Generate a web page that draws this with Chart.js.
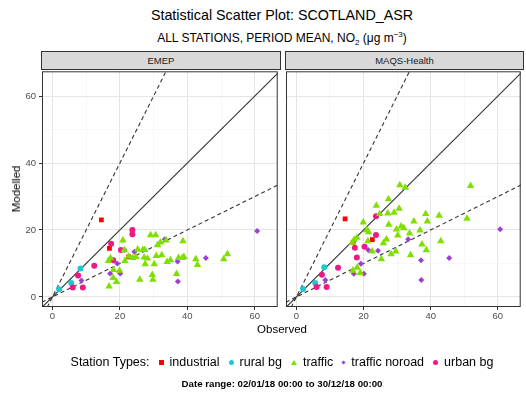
<!DOCTYPE html>
<html>
<head>
<meta charset="utf-8">
<script src="https://cdn.jsdelivr.net/npm/chart.js@4.4.0/dist/chart.umd.min.js"></script>
<style>
body { margin: 0; background: #fff; font-family: "Liberation Sans", Arial, sans-serif; }
#wrap { position: relative; width: 526px; height: 397px; overflow: hidden; }
.abs { position: absolute; }
.ctr { left: 41px; width: 482px; text-align: center; white-space: nowrap; }
#title { top: 6px; font-size: 14.3px; line-height: 18px; color: #000; }
#sub { top: 27px; font-size: 12px; line-height: 16px; color: #000; }
.strip { top: 51px; height: 19px; background: #d9d9d9; border: 1px solid #333; box-sizing: border-box;
  font-size: 9.5px; line-height: 17px; text-align: center; color: #1a1a1a; }
#ytitle { left: 16px; top: 189px; font-size: 11.5px; transform: translate(-50%, -50%) rotate(-90deg); white-space: nowrap; }
#xtitle { top: 322px; font-size: 11.5px; line-height: 14px; }
#legend { top: 354px; font-size: 12.5px; line-height: 16px; display: flex; justify-content: center; align-items: center; }
#legend .mk { display: inline-block; margin: 0 6px 0 9px; }
#date { top: 378px; font-size: 9.7px; font-weight: bold; line-height: 12px; }
canvas { position: absolute; }
</style>
</head>
<body>
<div id="wrap">
  <div id="title" class="abs ctr">Statistical Scatter Plot: SCOTLAND_ASR</div>
  <div id="sub" class="abs ctr">ALL STATIONS, PERIOD MEAN, NO<sub style="font-size:8px">2</sub> (&mu;g m<sup style="font-size:8px">&minus;3</sup>)</div>
  <div class="abs strip" style="left:41px;width:240px;">EMEP</div>
  <div class="abs strip" style="left:285px;width:239px;">MAQS-Health</div>
  <canvas id="left" width="282" height="258" style="left:0;top:67px;"></canvas>
  <canvas id="right" width="245" height="258" style="left:280px;top:67px;"></canvas>
  <div id="ytitle" class="abs">Modelled</div>
  <div id="xtitle" class="abs ctr">Observed</div>
  <div id="legend" class="abs ctr">
    <span>Station Types:</span>
    <span class="mk" style="width:5px;height:5px;background:#ff0000;"></span><span>industrial</span>
    <span class="mk" style="width:5px;height:5px;border-radius:50%;background:#1cc9d3;"></span><span>rural bg</span>
    <span class="mk" style="width:0;height:0;border-left:3px solid transparent;border-right:3px solid transparent;border-bottom:5px solid #7fe000;"></span><span>traffic</span>
    <span class="mk" style="width:3px;height:3px;transform:rotate(45deg);background:#9b3fd5;"></span><span>traffic noroad</span>
    <span class="mk" style="width:5px;height:5px;border-radius:50%;background:#ee1a84;"></span><span>urban bg</span>
  </div>
  <div id="date" class="abs ctr">Date range: 02/01/18 00:00 to 30/12/18 00:00</div>
</div>
<script>
// observed values are shared by both panels, modelled values per model
const industrialObs = [14.5, 16.9, 22.6];
const industrialEmep = [23.0, 14.5, 12.0];
const industrialMaqs = [23.3, 16.3, 17.1];

const ruralObs = [2.0, 5.6, 8.3];
const ruralEmep = [2.3, 4.2, 8.5];
const ruralMaqs = [2.4, 4.2, 8.9];

const trafficObs = [16.6, 16.8, 17.2, 18.0, 18.1, 19.0, 19.9, 20.9, 21.3, 21.5, 22.6, 23.8, 24.8, 25.3, 25.9,
  26.8, 27.2, 27.4, 27.5, 28.2, 29.1, 29.6, 29.8, 30.2, 30.6, 30.8, 31.2, 32.0, 32.4, 33.7, 34.0, 35.0, 36.8,
  37.4, 38.5, 38.7, 39.0, 42.5, 43.0, 50.8, 51.9];
const trafficEmep = [10.8, 3.2, 11.6, 5.7, 8.1, 4.5, 7.9, 16.9, 14.0, 10.8, 12.1, 11.7, 12.0, 14.2, 5.2,
  14.1, 11.8, 14.1, 9.8, 11.5, 18.5, 6.6, 5.2, 9.8, 18.5, 12.3, 15.5, 16.3, 12.5, 16.9, 10.5, 11.0, 6.9,
  11.7, 11.7, 16.7, 12.0, 11.3, 9.6, 11.3, 12.8];
const trafficMaqs = [16.2, 7.9, 17.1, 17.7, 8.8, 7.2, 22.3, 20.0, 16.7, 19.4, 13.6, 27.3, 24.8, 11.3, 16.1,
  17.2, 25.0, 29.2, 21.6, 12.8, 25.2, 13.6, 20.2, 18.4, 26.4, 33.4, 21.1, 20.6, 32.7, 19.0, 12.5, 22.6, 19.9,
  15.7, 24.8, 14.0, 22.6, 24.3, 16.7, 23.4, 33.2];

const noroadObs = [8.6, 17.1, 20.1, 19.2, 21.4, 24.3, 33.3, 37.1, 37.2, 45.5, 60.7];
const noroadEmep = [4.9, 7.0, 7.0, 10.0, 14.0, 13.5, 17.2, 10.6, 4.6, 11.6, 19.7];
const noroadMaqs = [5.1, 6.9, 6.9, 9.9, 14.0, 13.8, 17.2, 11.0, 5.1, 11.6, 20.2];

const urbanObs = [6.0, 9.0, 7.6, 12.4, 17.4, 18.0, 20.3, 23.7, 23.7];
const urbanEmep = [2.8, 2.8, 6.4, 9.3, 15.9, 11.0, 14.0, 20.0, 18.7];
const urbanMaqs = [3.0, 3.0, 6.6, 8.7, 14.7, 11.8, 15.0, 24.1, 18.5];

// 1:1, 2:1 and 1:2 reference lines (end points)
const lineOneOne = [[-5, -5], [70, 70]];
const lineTwoOne = [[-2.5, -5], [35, 70]];
const lineOneTwo = [[-5, -2.5], [70, 35]];

const tickValues = [0, 10, 20, 30, 40, 50, 60];
const majorTicks = [0, 20, 40, 60];

function pts(xs, ys) {
  return xs.map((x, i) => ({ x: x, y: ys[i] }));
}
function seg(p) {
  return p.map(q => ({ x: q[0], y: q[1] }));
}

const panelBorder = {
  id: 'panelBorder',
  afterDraw(chart) {
    const a = chart.chartArea, ctx = chart.ctx;
    ctx.save();
    ctx.strokeStyle = '#333';
    ctx.lineWidth = 1;
    ctx.strokeRect(a.left + 0.5, a.top + 0.5, a.right - a.left - 1, a.bottom - a.top - 1);
    ctx.restore();
  }
};

function axis(min, max, showLabels, fitSize, isX) {
  return {
    type: 'linear', min: min, max: max,
    afterBuildTicks: s => { s.ticks = tickValues.map(v => ({ value: v })); },
    afterFit: s => {
      if (isX) s.height = fitSize; else s.width = fitSize;
      s.paddingTop = 0; s.paddingBottom = 0; s.paddingLeft = 0; s.paddingRight = 0;
    },
    border: { display: false },
    grid: {
      color: c => majorTicks.includes(c.tick.value) ? '#e5e5e5' : '#f3f3f3',
      lineWidth: c => majorTicks.includes(c.tick.value) ? 1 : 0.7,
      drawTicks: showLabels,
      tickLength: 3,
      tickColor: c => majorTicks.includes(c.tick.value) ? '#333' : 'rgba(0,0,0,0)'
    },
    ticks: {
      display: showLabels,
      padding: isX ? 1 : 3,
      color: '#4d4d4d',
      font: { family: '"Liberation Sans", Arial, sans-serif', size: 9.5 },
      callback: v => majorTicks.includes(v) ? String(v) : ''
    }
  };
}

function makePanel(id, mods, showY, yWidth) {
  const refStyle = { type: 'line', pointRadius: 0, borderColor: '#333', borderWidth: 1.1, fill: false, order: 10 };
  new Chart(document.getElementById(id), {
    type: 'scatter',
    data: {
      datasets: [
        Object.assign({ data: seg(lineOneOne), borderDash: [] }, refStyle),
        Object.assign({ data: seg(lineTwoOne), borderDash: [4, 3] }, refStyle),
        Object.assign({ data: seg(lineOneTwo), borderDash: [4, 3] }, refStyle),
        { data: pts(trafficObs, mods.traffic), pointStyle: 'triangle', pointRadius: 4.3, backgroundColor: '#7fe000', borderWidth: 0 },
        { data: pts(noroadObs, mods.noroad), pointStyle: 'rectRot', pointRadius: 3, backgroundColor: '#9b3fd5', borderWidth: 0 },
        { data: pts(urbanObs, mods.urban), pointStyle: 'circle', pointRadius: 3, backgroundColor: '#ee1a84', borderWidth: 0 },
        { data: pts(ruralObs, mods.rural), pointStyle: 'circle', pointRadius: 3, backgroundColor: '#1cc9d3', borderWidth: 0 },
        { data: pts(industrialObs, mods.industrial), pointStyle: 'rect', pointRadius: 3.4, backgroundColor: '#ff0000', borderWidth: 0 }
      ]
    },
    options: {
      responsive: false,
      animation: false,
      events: [],
      layout: { padding: { top: 2, right: 2, left: 0, bottom: 0 } },
      plugins: { legend: { display: false }, tooltip: { enabled: false } },
      scales: {
        x: axis(-3.1, 66.8, true, 18, true),
        y: axis(-3.0, 67.4, showY, yWidth, false)
      }
    },
    plugins: [panelBorder]
  });
}

makePanel('left', { industrial: industrialEmep, rural: ruralEmep, traffic: trafficEmep, noroad: noroadEmep, urban: urbanEmep }, true, 42);
makePanel('right', { industrial: industrialMaqs, rural: ruralMaqs, traffic: trafficMaqs, noroad: noroadMaqs, urban: urbanMaqs }, false, 6);
</script>
</body>
</html>
